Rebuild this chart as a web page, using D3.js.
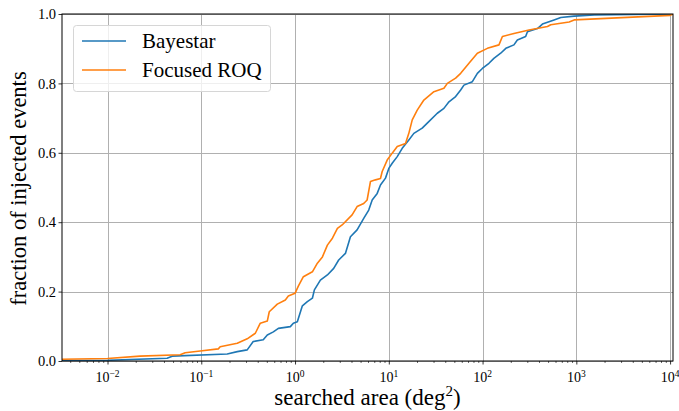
<!DOCTYPE html>
<html>
<head>
<meta charset="utf-8">
<script src="https://cdn.jsdelivr.net/npm/d3@7"></script>
<style>
  html, body { margin: 0; padding: 0; background: #fff; }
  svg { display: block; }
  text { font-family: "Liberation Serif", "DejaVu Serif", serif; fill: #000; }
</style>
</head>
<body>
<svg id="chart" width="679" height="411"></svg>
<script>
// ---- data (searched area in deg^2, cumulative fraction) ----
const seriesNames = ["Bayestar", "Focused ROQ"];
const bayestarArea = [0.00327, 0.01, 0.0432, 0.0489, 0.189, 0.242, 0.309, 0.358, 0.458, 0.506, 0.587, 0.664, 0.891, 0.959, 1.058, 1.197, 1.353, 1.531, 1.608, 1.863, 2.213, 2.584, 2.921, 3.445, 3.898, 4.59, 5.40, 6.11, 6.65, 7.52, 8.15, 9.22, 10.0, 10.87, 12.3, 13.9, 16.35, 18.5, 22.7, 26.7, 32.9, 38.7, 43.8, 51.6, 58.4, 63.3, 77.8, 88.0, 99.5, 117, 132, 156, 177, 216, 235, 288, 301, 385, 435, 579, 683, 948, 1550, 10740];
const bayestarFrac = [0.001, 0.002, 0.008, 0.014, 0.020, 0.027, 0.032, 0.056, 0.061, 0.075, 0.084, 0.094, 0.099, 0.109, 0.113, 0.159, 0.171, 0.181, 0.205, 0.233, 0.248, 0.267, 0.291, 0.310, 0.358, 0.378, 0.411, 0.435, 0.464, 0.483, 0.507, 0.527, 0.555, 0.570, 0.589, 0.613, 0.637, 0.656, 0.671, 0.690, 0.714, 0.728, 0.747, 0.762, 0.781, 0.795, 0.805, 0.829, 0.843, 0.858, 0.872, 0.887, 0.901, 0.911, 0.925, 0.935, 0.949, 0.958, 0.971, 0.983, 0.990, 0.994, 0.997, 1.0];
const roqArea = [0.00327, 0.01, 0.0222, 0.0595, 0.0673, 0.0973, 0.152, 0.159, 0.242, 0.309, 0.377, 0.426, 0.506, 0.531, 0.647, 0.788, 0.848, 1.0, 1.084, 1.227, 1.531, 1.731, 1.959, 2.213, 2.504, 2.831, 3.18, 4.06, 4.59, 5.40, 5.87, 6.37, 7.21, 8.15, 8.50, 9.61, 10.87, 12.3, 15.07, 16.35, 17.78, 20.1, 23.66, 30.27, 38.7, 42.1, 51.6, 58.4, 71.6, 88.0, 112.5, 149.6, 162.8, 216, 313, 492, 534, 838, 948, 10000, 10740];
const roqFrac = [0.005, 0.007, 0.014, 0.018, 0.024, 0.029, 0.035, 0.041, 0.051, 0.064, 0.080, 0.109, 0.115, 0.142, 0.164, 0.176, 0.187, 0.195, 0.216, 0.243, 0.257, 0.282, 0.300, 0.334, 0.354, 0.382, 0.392, 0.421, 0.445, 0.454, 0.464, 0.517, 0.522, 0.526, 0.546, 0.579, 0.599, 0.618, 0.627, 0.656, 0.695, 0.723, 0.752, 0.776, 0.786, 0.800, 0.815, 0.829, 0.858, 0.887, 0.901, 0.911, 0.935, 0.944, 0.954, 0.964, 0.969, 0.977, 0.983, 0.996, 1.0];
const xTickExps = [-2, -1, 0, 1, 2, 3, 4];
const yTicks = [0.0, 0.2, 0.4, 0.6, 0.8, 1.0];
const xLabel = "searched area (deg";
const yLabel = "fraction of injected events";
const colors = ["#1f77b4", "#ff7f0e"];

// ---- layout ----
const svg = d3.select("#chart");
const mLeft = 62, mRight = 673, mTop = 14, mBottom = 361;
const x = d3.scaleLog().domain([0.00327, 10740]).range([mLeft, mRight]);
const y = d3.scaleLinear().domain([0, 1]).range([mBottom, mTop]);

svg.append("defs").append("clipPath").attr("id", "clip")
  .append("rect").attr("x", mLeft).attr("y", mTop).attr("width", mRight - mLeft).attr("height", mBottom - mTop);

// grid
const grid = svg.append("g").attr("stroke", "#b0b0b0").attr("stroke-width", 1);
xTickExps.forEach(e => {
  const px = Math.round(x(Math.pow(10, e))) + 0.5;
  grid.append("line").attr("x1", px).attr("x2", px).attr("y1", mTop).attr("y2", mBottom);
});
yTicks.forEach(v => {
  const py = Math.round(y(v)) + 0.5;
  grid.append("line").attr("x1", mLeft).attr("x2", mRight).attr("y1", py).attr("y2", py);
});

// lines
const lineGen = d3.line().x(d => x(d[0])).y(d => y(d[1]));
const series = [
  d3.zip(bayestarArea, bayestarFrac),
  d3.zip(roqArea, roqFrac)
];
series.forEach((s, i) => {
  svg.append("path").datum(s)
    .attr("clip-path", "url(#clip)")
    .attr("fill", "none").attr("stroke", colors[i]).attr("stroke-width", 1.6)
    .attr("stroke-linejoin", "round")
    .attr("d", lineGen);
});

// axes
const xMajor = xTickExps.map(e => Math.pow(10, e));
const minor = [];
for (let e = -3; e <= 4; e++) for (let k = 2; k <= 9; k++) {
  const v = k * Math.pow(10, e);
  if (v >= x.domain()[0] && v <= x.domain()[1]) minor.push(v);
}
const gx = svg.append("g").attr("transform", `translate(0,${mBottom})`);
gx.call(d3.axisBottom(x).tickValues(minor).tickSize(2).tickFormat(""));
gx.selectAll("line").attr("stroke", "#000").attr("stroke-width", 0.6);
const gx2 = svg.append("g").attr("transform", `translate(0,${mBottom})`);
gx2.call(d3.axisBottom(x).tickValues(xMajor).tickSize(3.5).tickFormat(""));
gx2.selectAll("line").attr("stroke", "#000").attr("stroke-width", 0.8);
gx.select(".domain").remove(); gx2.select(".domain").remove();
xTickExps.forEach(e => {
  const t = svg.append("text").attr("x", x(Math.pow(10, e))).attr("y", 382)
    .attr("text-anchor", "middle").attr("font-size", 14);
  t.append("tspan").text("10");
  t.append("tspan").attr("dy", -5.5).attr("font-size", 9.5).text(e < 0 ? "\u2212" + (-e) : String(e));
});

const gy = svg.append("g").attr("transform", `translate(${mLeft},0)`);
gy.call(d3.axisLeft(y).tickValues(yTicks).tickSize(3.5).tickFormat(d3.format(".1f")));
gy.select(".domain").remove();
gy.selectAll("line").attr("stroke", "#000").attr("stroke-width", 0.8);
gy.selectAll("text").attr("font-size", 14.5).attr("font-family", "Liberation Serif, serif").attr("x", -6).attr("dy", "0.32em");

// spines
svg.append("rect").attr("x", mLeft).attr("y", mTop).attr("width", mRight - mLeft).attr("height", mBottom - mTop)
  .attr("fill", "none").attr("stroke", "#000").attr("stroke-width", 1);

// axis labels
const xl = svg.append("text").attr("x", (mLeft + mRight) / 2).attr("y", 405)
  .attr("text-anchor", "middle").attr("font-size", 23);
xl.append("tspan").text(xLabel);
xl.append("tspan").attr("dy", -9).attr("font-size", 15).text("2");
xl.append("tspan").attr("dy", 9).text(")");
svg.append("text").attr("transform", `translate(26,${(mTop + mBottom) / 2 + 1}) rotate(-90)`)
  .attr("text-anchor", "middle").attr("font-size", 22.5).text(yLabel);

// legend
const lg = svg.append("g");
lg.append("rect").attr("x", 73.5).attr("y", 25.5).attr("width", 197).attr("height", 66).attr("rx", 3)
  .attr("fill", "#fff").attr("fill-opacity", 0.8).attr("stroke", "#d6d6d6").attr("stroke-width", 1);
seriesNames.forEach((n, i) => {
  const cy = 41 + i * 29;
  lg.append("line").attr("x1", 82).attr("x2", 126).attr("y1", cy).attr("y2", cy)
    .attr("stroke", colors[i]).attr("stroke-width", 1.6);
  lg.append("text").attr("x", 142).attr("y", cy).attr("dy", "0.35em").attr("font-size", 21).text(n);
});
</script>
</body>
</html>
